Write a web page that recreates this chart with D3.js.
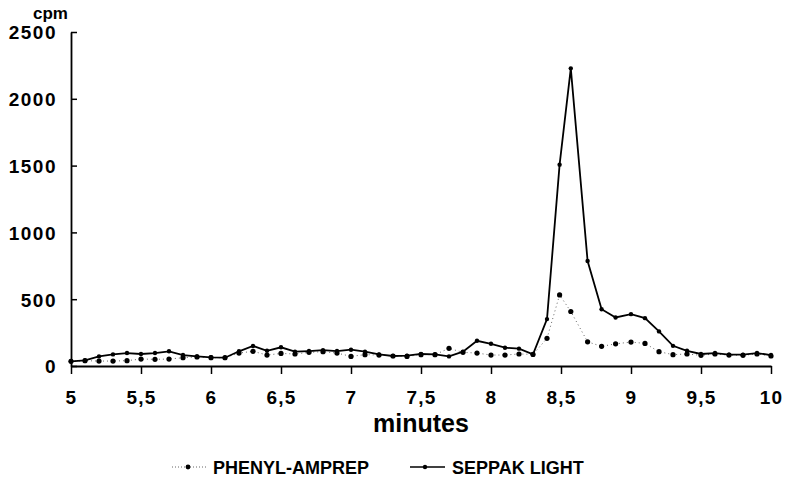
<!DOCTYPE html>
<html>
<head>
<meta charset="utf-8">
<script src="https://cdn.jsdelivr.net/npm/d3@7"></script>
<style>
  body { margin: 0; background: #fff; }
  text { font-family: "Liberation Sans", Arial, sans-serif; font-weight: bold; fill: #000; }
</style>
</head>
<body>
<script>
var minutes = [5.0, 5.1, 5.2, 5.3, 5.4, 5.5, 5.6, 5.7, 5.8, 5.9,
               6.0, 6.1, 6.2, 6.3, 6.4, 6.5, 6.6, 6.7, 6.8, 6.9,
               7.0, 7.1, 7.2, 7.3, 7.4, 7.5, 7.6, 7.7, 7.8, 7.9,
               8.0, 8.1, 8.2, 8.3, 8.4, 8.49, 8.57, 8.69, 8.79, 8.89,
               9.0, 9.1, 9.2, 9.3, 9.4, 9.5, 9.6, 9.7, 9.8, 9.9, 10.0];

var seppak = [35, 42, 72, 87, 97, 90, 97, 110, 82, 72,
              65, 62, 110, 150, 114, 140, 107, 112, 119, 112,
              122, 107, 87, 75, 77, 90, 87, 72, 107, 189,
              166, 137, 130, 87, 351, 1507, 2228, 786, 425, 363,
              388, 358, 259, 151, 114, 90, 97, 85, 85, 97, 82];

var phenyl = [35, 40, 37, 37, 40, 52, 50, 52, 62, 68,
              62, 62, 97, 110, 82, 94, 90, 102, 107, 97,
              72, 85, 82, 75, 72, 85, 85, 132, 102, 97,
              82, 82, 90, 87, 207, 532, 408, 181, 147, 166,
              179, 169, 107, 85, 90, 80, 90, 82, 80, 90, 75];

var xTicks = [5, 5.5, 6, 6.5, 7, 7.5, 8, 8.5, 9, 9.5, 10];
var yTicks = [0, 500, 1000, 1500, 2000, 2500];
var seriesNames = ["PHENYL-AMPREP", "SEPPAK LIGHT"];

var width = 786, height = 491;

var xScale = d3.scaleLinear().domain([5, 10]).range([71, 771]);
var yScale = d3.scaleLinear().domain([0, 2500]).range([366, 32]);

var svg = d3.select("body")
            .append("svg")
            .attr("width", width)
            .attr("height", height);

// Y axis (ticks point inward)
var yAxis = svg.append("g")
               .attr("transform", "translate(71, 0)")
               .call(d3.axisLeft(yScale).tickValues(yTicks).tickSizeInner(-6).tickSizeOuter(0).tickPadding(14)
                       .tickFormat(d3.format("d")));
yAxis.select(".domain").attr("stroke-width", 1.8);
yAxis.selectAll(".tick line").attr("stroke-width", 1.5);
yAxis.selectAll("text")
     .style("font-size", "19px")
     .style("letter-spacing", "1.5px")
     .attr("dy", "0.36em");

// X axis
var xAxis = svg.append("g")
               .attr("transform", "translate(0, 366)")
               .call(d3.axisBottom(xScale).tickValues(xTicks).tickSizeInner(8).tickSizeOuter(0).tickPadding(17)
                       .tickFormat(function(d) { return String(d).replace(".", ","); }));
xAxis.select(".domain").attr("stroke-width", 1.8);
xAxis.selectAll(".tick line").attr("stroke-width", 1.5);
xAxis.selectAll("text")
     .style("font-size", "19px")
     .style("letter-spacing", "1.2px");

// axis titles
svg.append("text")
   .attr("x", 33)
   .attr("y", 19)
   .style("font-size", "17px")
   .text("cpm");

svg.append("text")
   .attr("x", 421)
   .attr("y", 432)
   .style("text-anchor", "middle")
   .style("font-size", "25px")
   .text("minutes");

var line_plot = d3.line()
                  .x(function(d) { return xScale(d[0]); })
                  .y(function(d) { return yScale(d[1]); });

var phenylData = minutes.map(function(m, i) { return [m, phenyl[i]]; });
var seppakData = minutes.map(function(m, i) { return [m, seppak[i]]; });

// PHENYL-AMPREP: faint dotted line with dots
svg.append("path")
   .attr("fill", "none")
   .attr("stroke", "#666")
   .attr("stroke-width", 1)
   .style("stroke-dasharray", "1, 3")
   .attr("d", line_plot(phenylData));

svg.append("g").selectAll("circle")
   .data(phenylData)
   .enter().append("circle")
   .attr("cx", function(d) { return xScale(d[0]); })
   .attr("cy", function(d) { return yScale(d[1]); })
   .attr("r", 2.6)
   .attr("fill", "#000");

// SEPPAK LIGHT: solid line with small dots
svg.append("path")
   .attr("fill", "none")
   .attr("stroke", "#000")
   .attr("stroke-width", 1.8)
   .attr("d", line_plot(seppakData));

svg.append("g").selectAll("circle")
   .data(seppakData)
   .enter().append("circle")
   .attr("cx", function(d) { return xScale(d[0]); })
   .attr("cy", function(d) { return yScale(d[1]); })
   .attr("r", 2.2)
   .attr("fill", "#000");

// Legend
var legendY = 467;
var lg = svg.append("g");
lg.append("line")
  .attr("x1", 172).attr("x2", 206).attr("y1", legendY).attr("y2", legendY)
  .attr("stroke", "#666").attr("stroke-width", 1)
  .style("stroke-dasharray", "1, 2");
lg.append("circle").attr("cx", 188).attr("cy", legendY).attr("r", 2.4).attr("fill", "#000");
lg.append("text")
  .attr("x", 213).attr("y", legendY + 7)
  .style("font-size", "18px")
  .text(seriesNames[0]);

lg.append("line")
  .attr("x1", 410).attr("x2", 445).attr("y1", legendY).attr("y2", legendY)
  .attr("stroke", "#000").attr("stroke-width", 1.6);
lg.append("circle").attr("cx", 425).attr("cy", legendY).attr("r", 2.2).attr("fill", "#000");
lg.append("text")
  .attr("x", 452).attr("y", legendY + 7)
  .style("font-size", "18px")
  .text(seriesNames[1]);
</script>
</body>
</html>
